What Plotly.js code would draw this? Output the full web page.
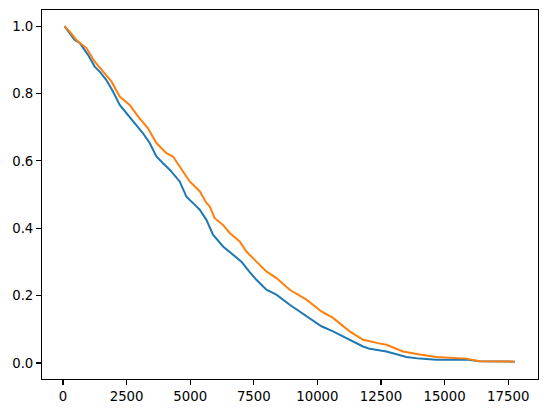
<!DOCTYPE html>
<html>
<head>
<meta charset="utf-8">
<script src="https://cdn.plot.ly/plotly-3.0.1.min.js"></script>
<style>html,body{margin:0;padding:0;background:#fff}#chart{width:547px;height:413px}</style>
</head>
<body>
<div id="chart"></div>
<script>
const blueX = [60, 460, 656, 983, 1246, 1443, 1706, 1966, 2229, 2492, 2752, 3145, 3408, 3672, 3931, 4194, 4587, 4851, 5244, 5374, 5637, 5896, 6290, 6683, 7013, 7339, 7603, 7995, 8389, 8912, 9568, 10158, 10614, 11270, 11793, 12056, 12713, 13499, 14022, 14678, 15858, 16380, 17756];
const blueY = [1.0, 0.959, 0.950, 0.915, 0.880, 0.865, 0.840, 0.806, 0.766, 0.742, 0.717, 0.682, 0.653, 0.613, 0.593, 0.574, 0.539, 0.494, 0.465, 0.455, 0.425, 0.381, 0.346, 0.321, 0.301, 0.270, 0.247, 0.2175, 0.203, 0.173, 0.138, 0.109, 0.094, 0.069, 0.049, 0.042, 0.034, 0.018, 0.013, 0.010, 0.010, 0.005, 0.004];
const orangeX = [60, 263, 527, 920, 1246, 1572, 1903, 2229, 2622, 2948, 3341, 3672, 4065, 4324, 4654, 4980, 5374, 5637, 5767, 5963, 6290, 6553, 6946, 7209, 7603, 7995, 8389, 8912, 9568, 10158, 10614, 11270, 11793, 12056, 12383, 12713, 13365, 14022, 14678, 15858, 16380, 17756];
const orangeY = [1.0, 0.984, 0.959, 0.935, 0.895, 0.865, 0.836, 0.791, 0.766, 0.732, 0.697, 0.653, 0.623, 0.613, 0.574, 0.539, 0.510, 0.475, 0.465, 0.430, 0.410, 0.386, 0.361, 0.331, 0.301, 0.272, 0.252, 0.2175, 0.188, 0.153, 0.134, 0.094, 0.069, 0.064, 0.059, 0.054, 0.034, 0.025, 0.018, 0.013, 0.005, 0.004];
const xTicks = [0, 2500, 5000, 7500, 10000, 12500, 15000, 17500];
const yTicks = [0.0, 0.2, 0.4, 0.6, 0.8, 1.0];

const font = {family: 'DejaVu Sans', size: 13.3, color: '#000'};
const axisCommon = {
  showgrid: false, zeroline: false, showline: true, mirror: true,
  linecolor: '#000', linewidth: 1.1, ticks: 'outside', ticklen: 4.9,
  tickwidth: 1.1, tickcolor: '#000', tickfont: font
};
Plotly.newPlot('chart', [
  {x: blueX, y: blueY, mode: 'lines', line: {color: '#1f77b4', width: 2}, hoverinfo: 'skip'},
  {x: orangeX, y: orangeY, mode: 'lines', line: {color: '#ff7f0e', width: 2}, hoverinfo: 'skip'}
], {
  width: 547, height: 413,
  margin: {l: 42, r: 9, t: 10, b: 34, pad: 0},
  paper_bgcolor: '#fff', plot_bgcolor: '#fff',
  showlegend: false,
  xaxis: Object.assign({}, axisCommon, {range: [-825, 18671], tickvals: xTicks, ticktext: xTicks.map(String)}),
  yaxis: Object.assign({}, axisCommon, {range: [-0.0475, 1.048], tickvals: yTicks, ticktext: yTicks.map(v => v.toFixed(1))})
}, {staticPlot: true, displayModeBar: false});
</script>
</body>
</html>
